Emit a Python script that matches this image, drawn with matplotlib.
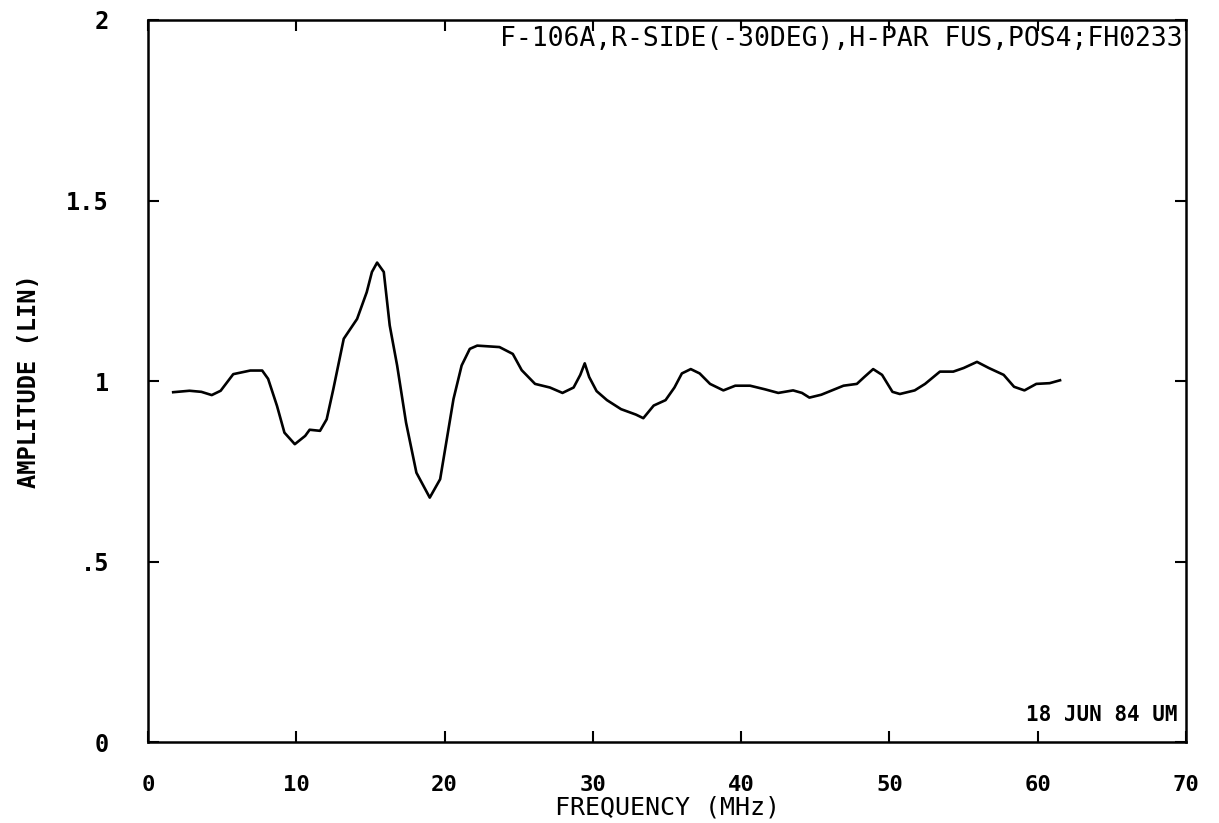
import matplotlib
matplotlib.use("Agg")
from matplotlib import pyplot as plt

# frequency (MHz) and amplitude
freq = [1.7, 2.8, 3.6, 4.3, 4.9, 5.75, 6.9, 7.7, 8.1, 8.7, 9.2, 9.9, 10.6, 10.9,
        11.6, 12.05, 12.5, 13.2, 14.1, 14.75, 15.1, 15.45, 15.9, 16.3, 16.8, 17.4,
        18.1, 19.0, 19.7, 20.15, 20.6, 21.15, 21.7, 22.2, 23.7, 24.6, 25.2, 26.1,
        27.1, 27.95, 28.7, 29.15, 29.45, 29.75, 30.25, 30.95, 31.9, 32.9, 33.4,
        34.1, 34.9, 35.5, 36.0, 36.6, 37.2, 37.9, 38.8, 39.6, 40.6, 41.6, 42.5,
        43.5, 44.1, 44.6, 45.4, 46.9, 47.8, 48.3, 48.9, 49.5, 50.2, 50.7, 51.7,
        52.4, 53.4, 54.3, 55.0, 55.9, 56.7, 57.7, 58.4, 59.1, 59.9, 60.8, 61.5]
amp = [0.969, 0.973, 0.970, 0.961, 0.973, 1.019, 1.029, 1.029, 1.006, 0.931, 0.857,
       0.825, 0.848, 0.865, 0.862, 0.894, 0.978, 1.117, 1.172, 1.246, 1.302, 1.328,
       1.302, 1.154, 1.043, 0.885, 0.746, 0.677, 0.728, 0.839, 0.950, 1.043, 1.089,
       1.098, 1.094, 1.075, 1.030, 0.992, 0.982, 0.967, 0.982, 1.017, 1.049, 1.011,
       0.972, 0.947, 0.922, 0.907, 0.897, 0.932, 0.947, 0.982, 1.021, 1.033, 1.021,
       0.992, 0.974, 0.987, 0.987, 0.977, 0.967, 0.974, 0.967, 0.954, 0.962, 0.987,
       0.992, 1.011, 1.033, 1.017, 0.970, 0.964, 0.974, 0.992, 1.026, 1.026, 1.036,
       1.053, 1.036, 1.017, 0.984, 0.974, 0.992, 0.994, 1.002]

xticks = [0, 10, 20, 30, 40, 50, 60, 70]
yticks = [0, 0.5, 1, 1.5, 2]
ylabels = ["0", ".5", "1", "1.5", "2"]

mono = "DejaVu Sans Mono"

fig = plt.figure(figsize=(12.19, 8.23), dpi=100)
ax = fig.add_axes([0.1214, 0.0984, 0.8516, 0.8773])

ax.plot(freq, amp, color="black", lw=1.9)

ax.set_xlim(0, 70)
ax.set_ylim(0, 2)
ax.set_xticks(xticks)
ax.set_xticklabels([str(t) for t in xticks], fontsize=16, family=mono, fontweight="bold")
ax.set_yticks(yticks)
ax.set_yticklabels(ylabels, fontsize=17, family=mono, fontweight="bold")
ax.tick_params(direction="in", length=8, width=1.5, top=True, right=True)
ax.tick_params(axis="x", pad=24)
ax.tick_params(axis="y", pad=28)
for s in ax.spines.values():
    s.set_linewidth(1.8)

ax.set_xlabel("FREQUENCY (MHz)", fontsize=18, family=mono, labelpad=0)
ax.set_ylabel("AMPLITUDE (LIN)", fontsize=17, family=mono, fontweight="bold", labelpad=18)

ax.text(0.997, 0.9737, "F-106A,R-SIDE(-30DEG),H-PAR FUS,POS4;FH0233",
        transform=ax.transAxes, ha="right", va="center", fontsize=19, family=mono)
ax.text(0.992, 0.037, "18 JUN 84 UM", transform=ax.transAxes, ha="right",
        va="center", fontsize=15, family=mono, fontweight="bold")

fig.savefig("out.png", dpi=100)
